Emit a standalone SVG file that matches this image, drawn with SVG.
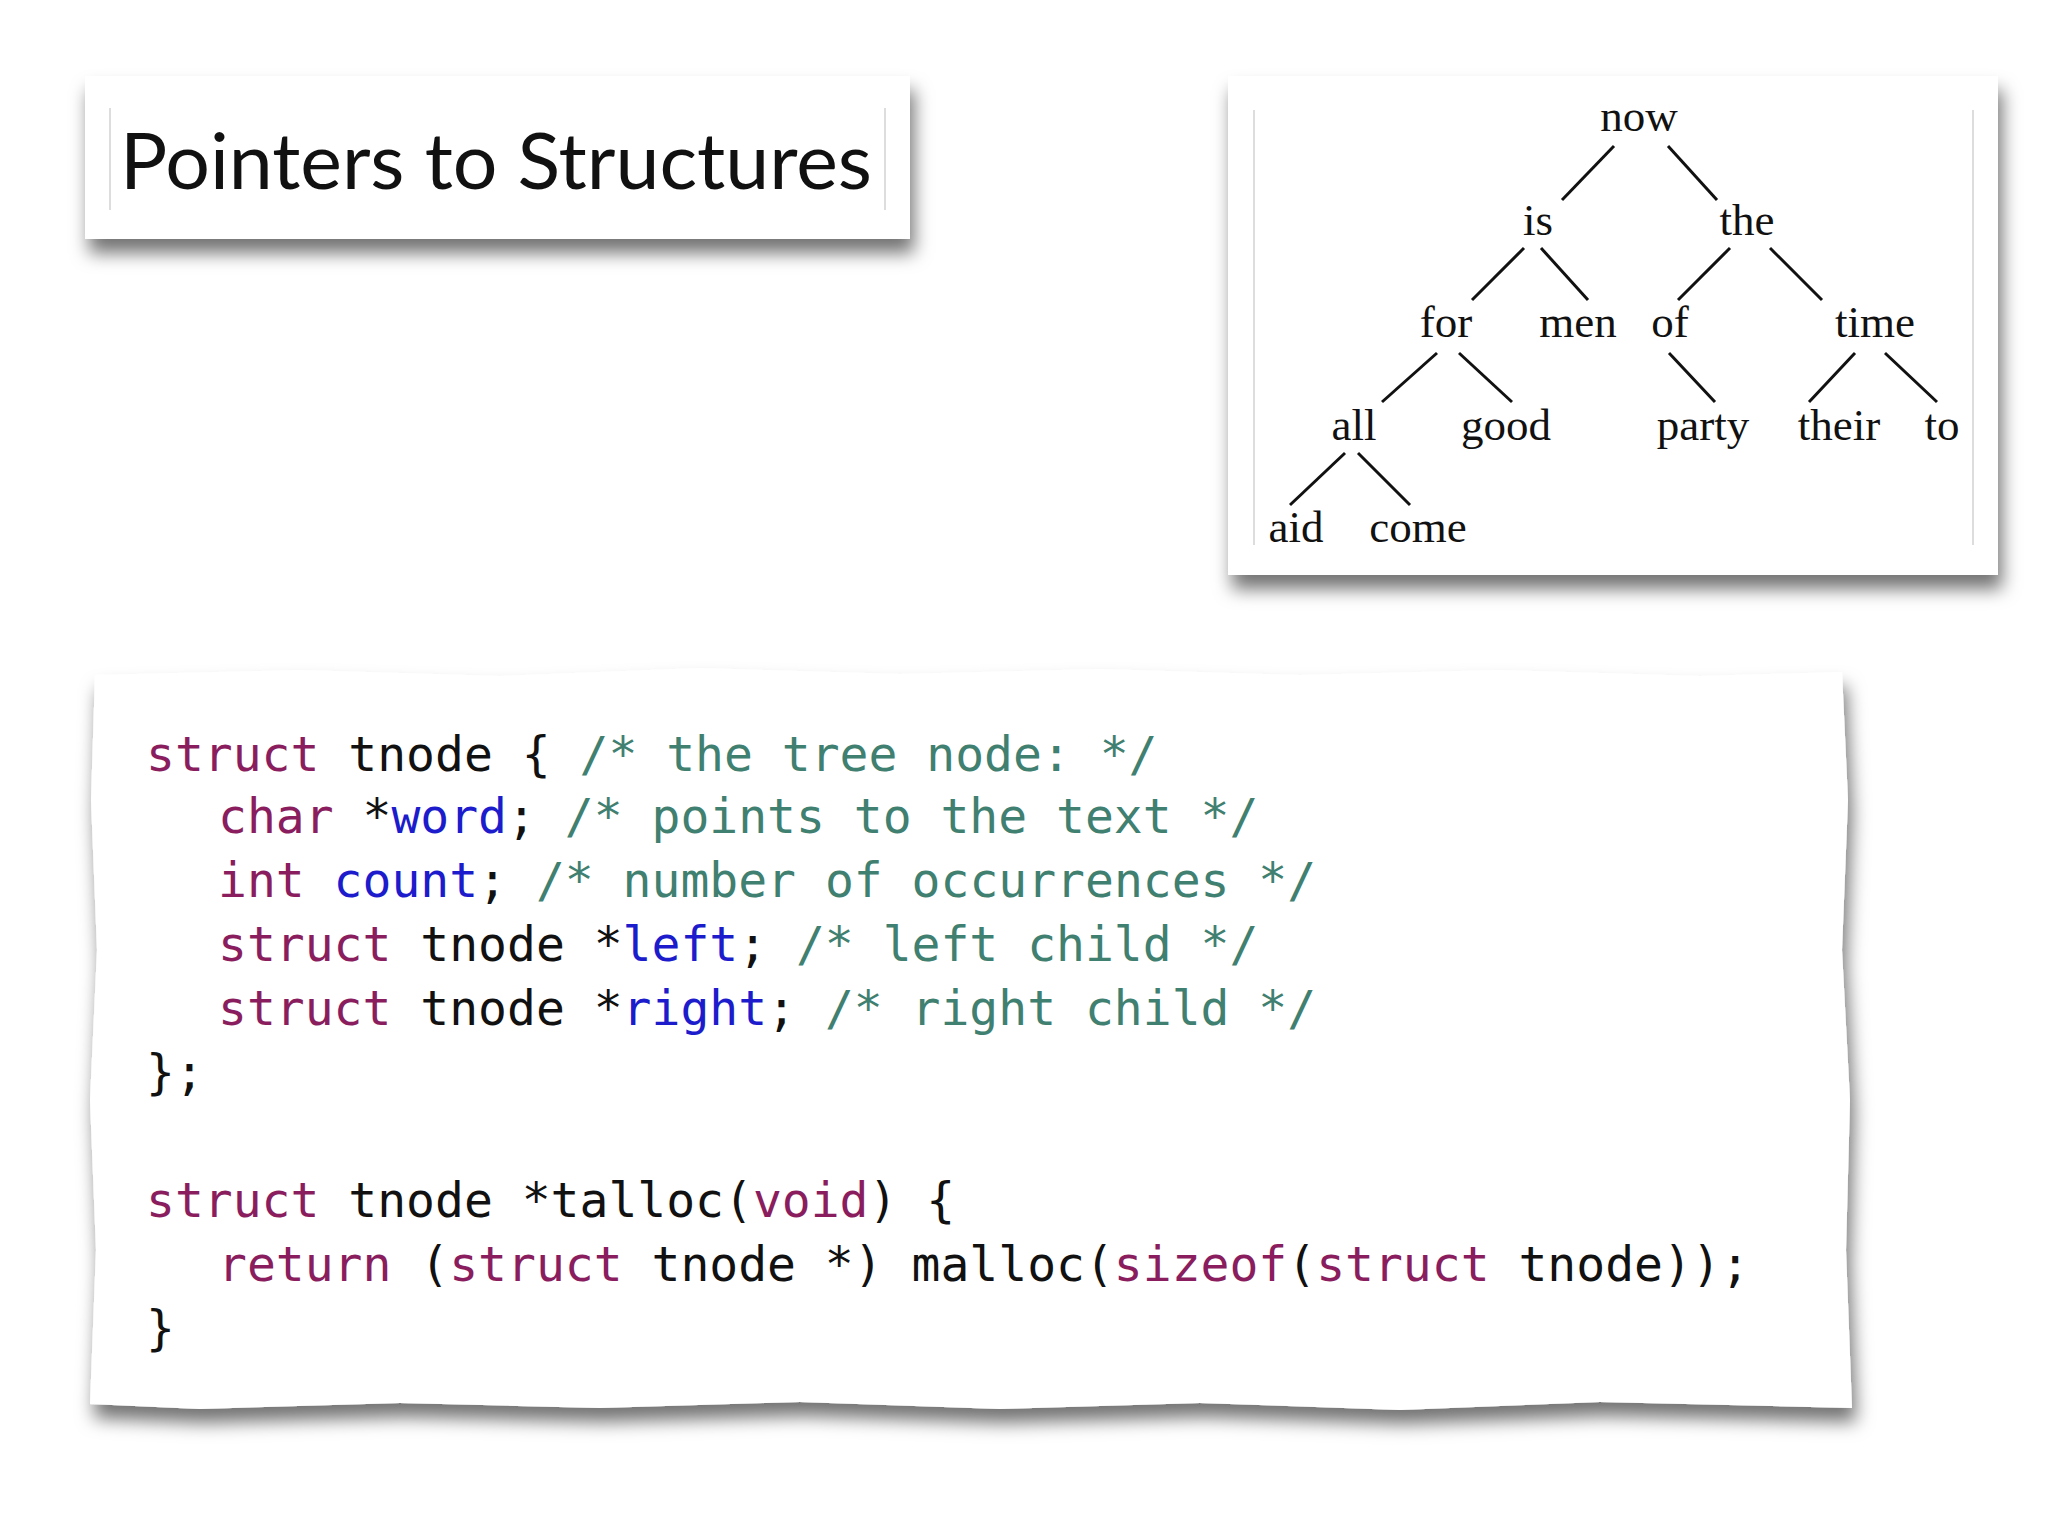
<svg xmlns="http://www.w3.org/2000/svg" width="2048" height="1536" viewBox="0 0 2048 1536">
<defs>
<filter id="sh" x="-10%" y="-10%" width="120%" height="140%"><feDropShadow dx="4" dy="14" stdDeviation="9" flood-color="#000" flood-opacity="0.55"/></filter>
<style>
.t{font-family:"Liberation Serif",serif;font-size:45px;fill:#111;text-anchor:middle}
.e{stroke:#111;stroke-width:3;fill:none}
.c{font-family:"DejaVu Sans Mono",monospace;font-size:48px;fill:#111;white-space:pre}
.k{fill:#8a1d5e}.b{fill:#1c1ccc}.g{fill:#3f8070}
</style>
</defs>
<rect width="2048" height="1536" fill="#fff"/>
<g id="title">
<rect x="85" y="76" width="825" height="163" fill="#fff" filter="url(#sh)"/>
<line x1="110" y1="108" x2="110" y2="210" stroke="#ddd" stroke-width="2"/>
<line x1="885" y1="108" x2="885" y2="210" stroke="#ddd" stroke-width="2"/>
<text x="120" y="189" font-family="Lato,'Open Sans',sans-serif" font-size="78" fill="#111" textLength="752" lengthAdjust="spacingAndGlyphs">Pointers to Structures</text>
</g>
<g id="tree">
<rect x="1228" y="76" width="770" height="499" fill="#fff" filter="url(#sh)"/>
<line x1="1254" y1="110" x2="1254" y2="545" stroke="#ddd" stroke-width="2"/>
<line x1="1973" y1="110" x2="1973" y2="545" stroke="#ddd" stroke-width="2"/>
<g id="connectors">
<line class="e" x1="1614" y1="146" x2="1562" y2="200"/>
<line class="e" x1="1668" y1="146" x2="1717" y2="200"/>
<line class="e" x1="1524" y1="248" x2="1472" y2="300"/>
<line class="e" x1="1541" y1="248" x2="1588" y2="300"/>
<line class="e" x1="1730" y1="248" x2="1678" y2="300"/>
<line class="e" x1="1770" y1="248" x2="1822" y2="300"/>
<line class="e" x1="1437" y1="353" x2="1382" y2="402"/>
<line class="e" x1="1459" y1="353" x2="1512" y2="402"/>
<line class="e" x1="1669" y1="353" x2="1715" y2="402"/>
<line class="e" x1="1855" y1="353" x2="1809" y2="402"/>
<line class="e" x1="1885" y1="353" x2="1937" y2="402"/>
<line class="e" x1="1345" y1="453" x2="1290" y2="505"/>
<line class="e" x1="1358" y1="453" x2="1410" y2="505"/>
</g>
<g id="n-now"><text class="t" x="1639" y="131">now</text></g>
<g id="n-is"><text class="t" x="1538" y="235">is</text></g>
<g id="n-the"><text class="t" x="1747" y="235">the</text></g>
<g id="n-for"><text class="t" x="1446" y="337">for</text></g>
<g id="n-men"><text class="t" x="1578" y="337">men</text></g>
<g id="n-of"><text class="t" x="1670" y="337">of</text></g>
<g id="n-time"><text class="t" x="1875" y="337">time</text></g>
<g id="n-all"><text class="t" x="1354" y="440">all</text></g>
<g id="n-good"><text class="t" x="1506" y="440">good</text></g>
<g id="n-party"><text class="t" x="1703" y="440">party</text></g>
<g id="n-their"><text class="t" x="1839" y="440">their</text></g>
<g id="n-to"><text class="t" x="1942" y="440">to</text></g>
<g id="n-aid"><text class="t" x="1296" y="542">aid</text></g>
<g id="n-come"><text class="t" x="1418" y="542">come</text></g>
</g>
<g id="code">
<path d="M95 675 L300 670 L500 676 L700 668 L900 674 L1100 669 L1300 675 L1500 670 L1700 676 L1842 672 L1848 800 L1842 950 L1850 1100 L1846 1250 L1852 1408 L1600 1402 L1400 1410 L1200 1403 L1000 1409 L800 1402 L600 1408 L400 1403 L200 1409 L90 1404 L96 1250 L90 1100 L97 950 L91 800 Z" fill="#fff" filter="url(#sh)"/>
<text class="c" x="146" y="771"><tspan class="k">struct</tspan> tnode { <tspan class="g">/* the tree node: */</tspan></text>
<text class="c" x="218" y="833"><tspan class="k">char</tspan> *<tspan class="b">word</tspan>; <tspan class="g">/* points to the text */</tspan></text>
<text class="c" x="218" y="897"><tspan class="k">int</tspan> <tspan class="b">count</tspan>; <tspan class="g">/* number of occurrences */</tspan></text>
<text class="c" x="218" y="961"><tspan class="k">struct</tspan> tnode *<tspan class="b">left</tspan>; <tspan class="g">/* left child */</tspan></text>
<text class="c" x="218" y="1025"><tspan class="k">struct</tspan> tnode *<tspan class="b">right</tspan>; <tspan class="g">/* right child */</tspan></text>
<text class="c" x="146" y="1089">};</text>
<text class="c" x="146" y="1217"><tspan class="k">struct</tspan> tnode *talloc(<tspan class="k">void</tspan>) {</text>
<text class="c" x="218" y="1281"><tspan class="k">return</tspan> (<tspan class="k">struct</tspan> tnode *) malloc(<tspan class="k">sizeof</tspan>(<tspan class="k">struct</tspan> tnode));</text>
<text class="c" x="146" y="1345">}</text>
</g>
</svg>
